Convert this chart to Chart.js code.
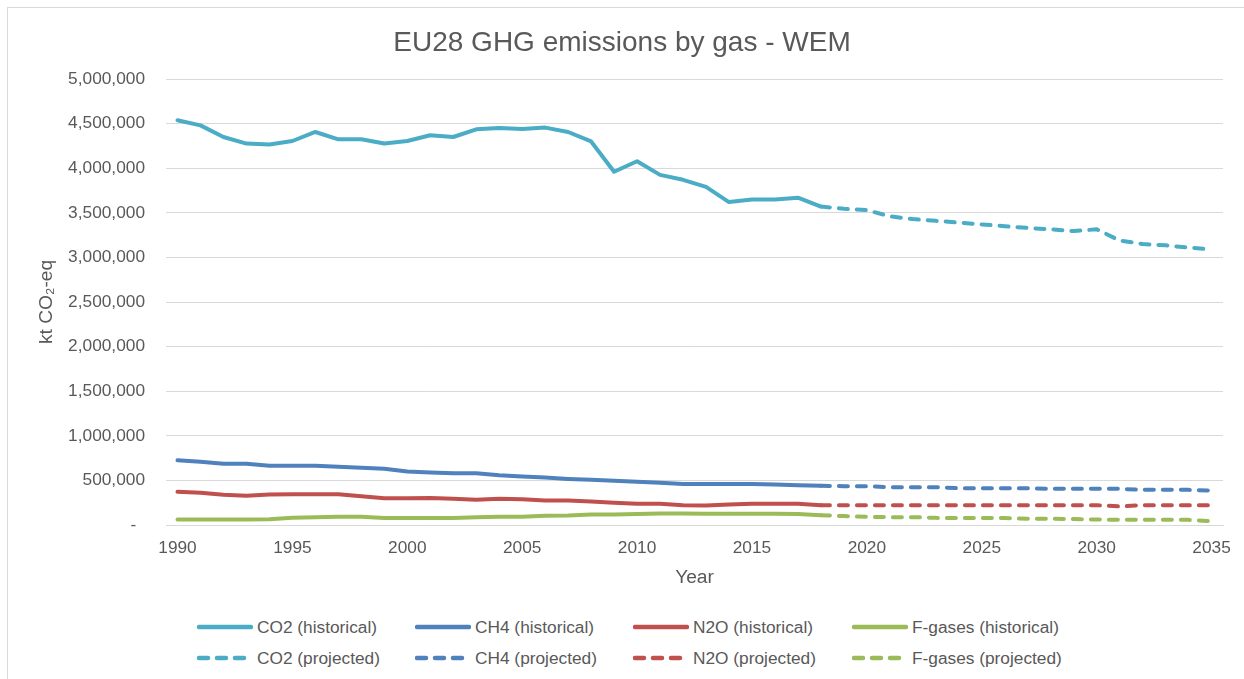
<!DOCTYPE html>
<html>
<head>
<meta charset="utf-8">
<script src="https://cdn.jsdelivr.net/npm/chart.js@4.4.1/dist/chart.umd.min.js"></script>
<style>
  html, body { margin: 0; padding: 0; background: #ffffff; overflow: hidden; width: 1244px; height: 679px; }
  #frame { position: absolute; left: 7px; top: 7px; width: 1300px; height: 700px; border: 1px solid #d9d9d9; box-sizing: border-box; }
  #wrap { position: absolute; left: 0; top: 0; width: 1244px; height: 600px; }
  #legend { position: absolute; left: 0; top: 600px; width: 1244px; height: 79px; font-family: "Liberation Sans", Arial, sans-serif; font-size: 17.3px; color: #595959; }
  .item { position: absolute; height: 22px; display: flex; align-items: center; white-space: nowrap; }
  .item svg { margin-right: 4px; }
</style>
</head>
<body>
<div id="frame"></div>
<div id="wrap"><canvas id="c" width="1244" height="600"></canvas></div>
<div id="legend"></div>
<script>
// ---- Data (kt CO2-eq) ----
const years = [];
for (let y = 1990; y <= 2035; y++) years.push(String(y));

const histYears = ["1990","1991","1992","1993","1994","1995","1996","1997","1998","1999","2000","2001","2002","2003","2004","2005","2006","2007","2008","2009","2010","2011","2012","2013","2014","2015","2016","2017","2018"];
const projYears = ["2018","2019","2020","2021","2022","2023","2024","2025","2026","2027","2028","2029","2030","2031","2032","2033","2034","2035"];

const co2Hist = [4537000,4480000,4350000,4276000,4265000,4305000,4406000,4324000,4324000,4276000,4305000,4369000,4350000,4436000,4450000,4440000,4455000,4406000,4300000,3960000,4078000,3925000,3870000,3790000,3620000,3650000,3650000,3670000,3570000];
const co2Proj = [3570000,3545000,3530000,3460000,3430000,3410000,3390000,3370000,3350000,3330000,3315000,3295000,3315000,3190000,3150000,3135000,3110000,3090000];

const ch4Hist = [725000,708000,686000,686000,663000,663000,663000,652000,641000,630000,599000,588000,580000,580000,558000,543000,532000,517000,506000,495000,484000,473000,461000,461000,461000,461000,455000,446000,440000];
const ch4Proj = [440000,435000,435000,424000,424000,424000,412000,412000,412000,412000,405000,405000,405000,405000,394000,394000,394000,386000];

const n2oHist = [372000,361000,338000,327000,341000,345000,345000,345000,322000,300000,300000,302000,293000,282000,293000,288000,274000,274000,263000,249000,237000,237000,222000,218000,230000,237000,237000,237000,222000];
const n2oProj = [222000,222000,222000,222000,222000,222000,222000,222000,222000,222000,222000,222000,222000,208000,222000,222000,222000,222000];

const fgasHist = [62000,62000,62000,62000,65000,80000,86000,92000,92000,78000,78000,78000,78000,88000,92000,92000,103000,107000,118000,118000,122000,129000,129000,127000,125000,125000,125000,122000,110000];
const fgasProj = [110000,100000,92000,88000,88000,80000,78000,78000,78000,70000,70000,66000,62000,58000,58000,58000,58000,43000];

const seriesLabels = ["CO2 (historical)","CH4 (historical)","N2O (historical)","F-gases (historical)","CO2 (projected)","CH4 (projected)","N2O (projected)","F-gases (projected)"];
const yTicks = [0,500000,1000000,1500000,2000000,2500000,3000000,3500000,4000000,4500000,5000000];

// ---- Helpers ----
function align(srcYears, vals) {
  return years.map(y => { const i = srcYears.indexOf(y); return i >= 0 ? vals[i] : null; });
}
const colors = { co2: "#4BACC6", ch4: "#4F81BD", n2o: "#C0504D", fgas: "#9BBB59" };
const FONT = '"Liberation Sans", Arial, sans-serif';
const dash = [9, 9];

function ds(label, data, color, dashed) {
  return {
    label, data, borderColor: color, backgroundColor: color,
    borderWidth: 4, pointRadius: 0, pointHoverRadius: 0, tension: 0,
    borderCapStyle: 'round', borderJoinStyle: 'round',
    borderDash: dashed ? dash : [], spanGaps: false, fill: false
  };
}

const datasets = [
  ds(seriesLabels[0], align(histYears, co2Hist), colors.co2, false),
  ds(seriesLabels[1], align(histYears, ch4Hist), colors.ch4, false),
  ds(seriesLabels[2], align(histYears, n2oHist), colors.n2o, false),
  ds(seriesLabels[3], align(histYears, fgasHist), colors.fgas, false),
  ds(seriesLabels[4], align(projYears, co2Proj), colors.co2, true),
  ds(seriesLabels[5], align(projYears, ch4Proj), colors.ch4, true),
  ds(seriesLabels[6], align(projYears, n2oProj), colors.n2o, true),
  ds(seriesLabels[7], align(projYears, fgasProj), colors.fgas, true)
];

const chart = new Chart(document.getElementById('c'), {
  type: 'line',
  data: { labels: years, datasets },
  options: {
    responsive: false,
    animation: false,
    layout: { padding: { left: 20, right: 20, top: 10, bottom: 0 } },
    plugins: {
      legend: { display: false },
      tooltip: { enabled: false },
      title: {
        display: true,
        text: 'EU28 GHG emissions by gas - WEM',
        color: '#595959',
        font: { family: FONT, size: 28, weight: 'normal' },
        padding: { top: 16, bottom: 19.4 }
      }
    },
    scales: {
      x: {
        type: 'category',
        offset: true,
        grid: { display: false, drawTicks: false },
        border: { display: true, color: '#d9d9d9', width: 1 },
        ticks: {
          autoSkip: false, maxRotation: 0, minRotation: 0, padding: 13,
          color: '#595959', font: { family: FONT, size: 17.3 },
          callback: function(v, i) { const y = years[i]; return (Number(y) % 5 === 0) ? y : ''; }
        },
        title: {
          display: true, text: 'Year', color: '#595959',
          font: { family: FONT, size: 19.2 }, padding: { top: 4, bottom: 10.5 }
        },
        afterFit: function(s) { s.height = 75; }
      },
      y: {
        min: 0, max: 5000000,
        afterBuildTicks: function(s) { s.ticks = yTicks.map(v => ({ value: v })); },
        grid: { color: '#d9d9d9', lineWidth: 1, drawTicks: false },
        border: { display: false },
        ticks: {
          padding: 21, color: '#595959', font: { family: FONT, size: 17.3 },
          callback: function(v) { return v === 0 ? '-\u2002' : Number(v).toLocaleString('en-US'); }
        },
        title: {
          display: true, text: 'kt CO\u2082-eq', color: '#595959',
          font: { family: FONT, size: 19.2 }, padding: { top: 15, bottom: 0 }
        },
        afterFit: function(s) { s.width = 146; }
      }
    }
  }
});

// ---- HTML legend (4 columns x 2 rows), built from the datasets ----
const colX = [197, 415, 633, 852];
const rowY = [627, 658];
const legend = document.getElementById('legend');
chart.data.datasets.forEach((d, i) => {
  const col = i % 4, row = Math.floor(i / 4);
  const item = document.createElement('div');
  item.className = 'item';
  item.style.left = colX[col] + 'px';
  item.style.top = (rowY[row] - 600 - 11) + 'px';
  const svgNS = 'http://www.w3.org/2000/svg';
  const svg = document.createElementNS(svgNS, 'svg');
  svg.setAttribute('width', '56'); svg.setAttribute('height', '10');
  const ln = document.createElementNS(svgNS, 'line');
  ln.setAttribute('x1', '2'); ln.setAttribute('x2', '54');
  ln.setAttribute('y1', '5'); ln.setAttribute('y2', '5');
  ln.setAttribute('stroke', d.borderColor);
  ln.setAttribute('stroke-width', '4.5');
  ln.setAttribute('stroke-linecap', 'round');
  if (d.borderDash && d.borderDash.length) ln.setAttribute('stroke-dasharray', '9 9');
  svg.appendChild(ln);
  const span = document.createElement('span');
  span.textContent = d.label;
  item.appendChild(svg); item.appendChild(span);
  legend.appendChild(item);
});
</script>
</body>
</html>
